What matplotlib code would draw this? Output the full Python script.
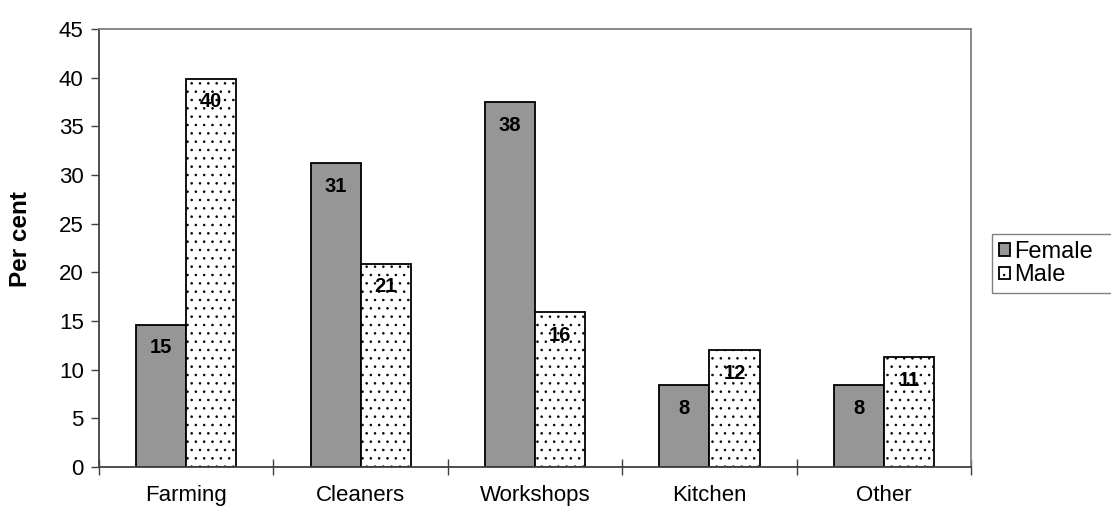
import numpy as np
import matplotlib
matplotlib.use("Agg")
import matplotlib.pyplot as plt

plt.rcParams["font.family"] = ["Liberation Sans", "DejaVu Sans"]
plt.rcParams["hatch.linewidth"] = 0.6

# shares by workplace, per cent
categories = ["Farming", "Cleaners", "Workshops", "Kitchen", "Other"]
female = [14.6, 31.2, 37.5, 8.4, 8.4]
male = [39.9, 20.9, 15.9, 12.0, 11.3]

fig = plt.figure(figsize=(11.11, 5.16), dpi=100)
ax = fig.add_axes([0.0891, 0.095, 0.785, 0.8487])

x = np.arange(len(categories))
w = 0.287
bars_f = ax.bar(x - w / 2, female, w, color="#969696", edgecolor="black",
                linewidth=1.3, label="Female")
bars_m = ax.bar(x + w / 2, male, w, color="white", edgecolor="black",
                linewidth=1.3, hatch="..", label="Male")

# value labels just inside the top of each bar
for bars, vals in [(bars_f, female), (bars_m, male)]:
    for b, v in zip(bars, vals):
        ax.annotate(f"{v:.0f}", (b.get_x() + b.get_width() / 2, v),
                    xytext=(0, -23), textcoords="offset pixels",
                    ha="center", va="center", fontsize=14.5, fontweight="bold")

ax.set_xlim(-0.5, len(categories) - 0.5)
ax.set_ylim(0, 45)
ax.set_yticks(np.arange(0, 46, 5))
ax.set_ylabel("Per cent", fontsize=17.5, fontweight="bold")
ax.yaxis.set_label_coords(-0.077, 0.52)

# category names centred, tick marks on the boundaries
ax.set_xticks(x)
ax.set_xticklabels(categories, fontsize=16)
ax.tick_params(axis="x", which="major", length=0, pad=13)
ax.set_xticks(np.arange(-0.5, len(categories)), minor=True)
ax.tick_params(axis="x", which="minor", direction="inout", length=11.5,
               width=1, color="#404040")
ax.tick_params(axis="y", direction="out", length=6, width=1, color="#404040",
               labelsize=16, pad=5)

for s in ["left", "bottom"]:
    ax.spines[s].set_color("#404040")
    ax.spines[s].set_linewidth(1.3)
for s in ["top", "right"]:
    ax.spines[s].set_color("#808080")
    ax.spines[s].set_linewidth(1.3)

# legend box runs past the right edge of the figure
leg = fig.legend(loc="upper left",
                 bbox_to_anchor=(992 / 1111, 1 - 290 / 516, 0.13, 56 / 516),
                 bbox_transform=fig.transFigure, mode="expand",
                 frameon=True, fancybox=False, fontsize=17,
                 handlelength=0.45, handleheight=0.45, handletextpad=0.2,
                 borderpad=0.3, labelspacing=0.05, borderaxespad=0)
leg.get_frame().set_edgecolor("#606060")
leg.get_frame().set_linewidth(1.0)

fig.savefig("out.png", dpi=100)
